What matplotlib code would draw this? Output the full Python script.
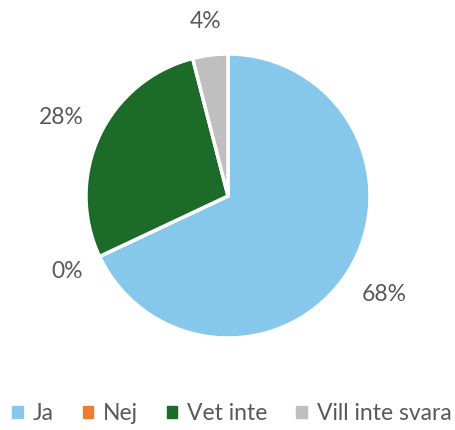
import numpy as np
import matplotlib.pyplot as plt

# answer categories and shares (percent)
categories = ['Ja', 'Nej', 'Vet inte', 'Vill inte svara']
shares = [68, 0, 28, 4]
colors = ['#86C8EC', '#ED7D31', '#1C6B28', '#BFBFBF']

plt.rcParams['font.family'] = ['Lato', 'DejaVu Sans']

fig = plt.figure(figsize=(4.55, 4.3), dpi=100)
# pie centre at (228, 196) px, radius 142 px
r = 142
ax = fig.add_axes([(228 - r) / 455, 1 - (196 + r) / 430, 2 * r / 455, 2 * r / 430])

wedges, texts, autotexts = ax.pie(
    shares, colors=colors, startangle=90, counterclock=False,
    autopct='%.0f%%', pctdistance=1.3,
    wedgeprops=dict(edgecolor='white', linewidth=2.5),
    textprops=dict(fontsize=16.5, color='#595959'))
# small labels sit a bit closer to the pie
label_dist = [1.3, 1.25, 1.3, 1.24]
for t, d in zip(autotexts, label_dist):
    x, y = t.get_position()
    t.set_position((x * d / 1.3, y * d / 1.3))
ax.set_xlim(-1, 1)
ax.set_ylim(-1, 1)
ax.set_aspect('auto')

handles = [plt.Rectangle((0, 0), 1, 1, color=c) for c in colors]
fig.legend(handles, categories, loc='center', bbox_to_anchor=(0.51, 1 - 414 / 430),
           ncol=4, frameon=False, fontsize=16.5, handlelength=0.45, handleheight=0.45,
           handletextpad=0.45, columnspacing=1.25, labelcolor='#595959')

fig.savefig('out.png', dpi=100)
